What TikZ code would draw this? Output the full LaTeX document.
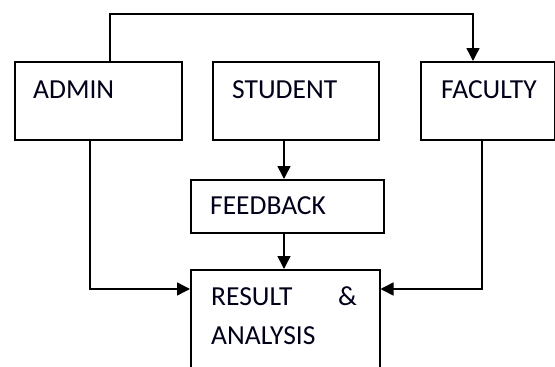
\documentclass[tikz,border=0pt]{standalone}
\usepackage{fontspec}
\setmainfont{Carlito}
\usetikzlibrary{arrows.meta}
\begin{document}
\begin{tikzpicture}[x=1pt,y=-1pt,
  box/.style={draw, line width=1.5pt, rectangle, anchor=north west, inner sep=0pt},
  lbl/.style={anchor=base west, inner sep=0pt, font=\fontsize{27.5}{30}\selectfont, text=black!90!blue},
  conn/.style={line width=1.5pt, -{Triangle[length=13pt,width=13pt]}},
  ]
\path[use as bounding box] (0,0) rectangle (555,367);
\clip (0,0) rectangle (555,367);
% boxes
\node[box, minimum width=167pt, minimum height=78pt] (admin) at (14,61) {};
\node[box, minimum width=166pt, minimum height=78pt] (student) at (212,61) {};
\node[box, minimum width=134pt, minimum height=78pt] (faculty) at (420,61) {};
\node[box, minimum width=193pt, minimum height=53pt] (feedback) at (190,179) {};
\node[box, minimum width=189pt, minimum height=140pt] (result) at (190,269) {};
% labels
\node[lbl] (tadmin) at (33,98) {ADMIN};
\node[lbl] (tstudent) at (232,98) {STUDENT};
\node[lbl] (tfaculty) at (441,98) {FACULTY};
\node[lbl] (tfeedback) at (210,214) {FEEDBACK};
\node[lbl] (tresult) at (211,305) {RESULT};
\node[lbl] (tamp) at (338,305) {\&};
\node[lbl] (tanalysis) at (211,344) {ANALYSIS};
% helper coordinates
\coordinate (t1) at (110,14);
\coordinate (t2) at (473,14);
\coordinate (sx) at (284,0);
\coordinate (ax) at (90,289);
\coordinate (fx) at (482,289);
% connectors
\draw[conn] (t1 |- admin.north) -- (t1) -- (t2) -- (t2 |- faculty.north);
\draw[conn] (sx |- student.south) -- (sx |- feedback.north);
\draw[conn] (sx |- feedback.south) -- (sx |- result.north);
\draw[conn] (ax |- admin.south) -- (ax) -- (ax -| result.west);
\draw[conn] (fx |- faculty.south) -- (fx) -- (fx -| result.east);
\end{tikzpicture}
\end{document}
